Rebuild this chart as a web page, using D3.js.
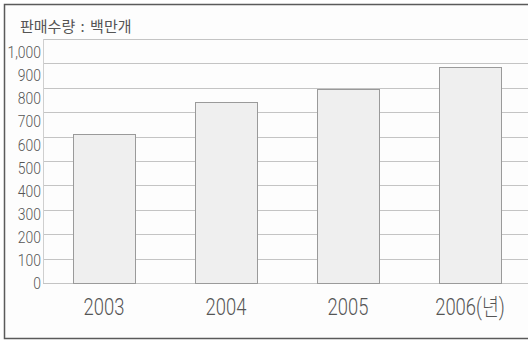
<!DOCTYPE html>
<html>
<head>
<meta charset="utf-8">
<script src="https://cdn.jsdelivr.net/npm/d3@7"></script>
<style>
  body { margin: 0; background: #fff; }
  svg { display: block; }
</style>
</head>
<body>
<script>
// chart data
var years = ["2003", "2004", "2005", "2006"];
var yearLabels = ["2003", "2004", "2005", "2006(년)"];
var sales = [612, 740, 795, 885];
var yTicks = [0, 100, 200, 300, 400, 500, 600, 700, 800, 900, 1000];
var unitTitle = "판매수량 : 백만개";

var width = 528, height = 341;
var numFont = "Roboto, 'Noto Sans CJK KR', sans-serif";

var svg = d3.select("body").append("svg")
  .attr("width", width).attr("height", height);

// frame
svg.append("rect")
  .attr("x", 4.5).attr("y", 4.5)
  .attr("width", 530).attr("height", 334)
  .style("fill", "#fdfdfd")
  .style("stroke", "#5a5a5a")
  .style("stroke-width", 1.5);

var y = d3.scaleLinear().domain([0, 1000]).range([283, 39]);
// the printed labels drift a little from the grid lines
var yLabel = d3.scaleLinear().domain([0, 1000]).range([283, 52]);
var x = d3.scaleBand().domain(years).range([43, 531])
  .paddingInner(0.49).paddingOuter(0.245);

// gridlines
svg.append("g").selectAll("line").data(yTicks).enter()
  .append("line")
  .attr("x1", 43).attr("x2", width)
  .attr("y1", function(d){return Math.round(y(d)) + 0.5;})
  .attr("y2", function(d){return Math.round(y(d)) + 0.5;})
  .style("stroke", "#c4c4c4").style("stroke-width", 1);

// y axis line
svg.append("line")
  .attr("x1", 43.5).attr("x2", 43.5)
  .attr("y1", y(1000)).attr("y2", y(0))
  .style("stroke", "#cfcfcf");

// y tick labels (narrow print face -> squeeze Roboto)
svg.append("g").selectAll("text").data(yTicks).enter()
  .append("text")
  .attr("transform", function(d){return "translate(41," + yLabel(d) + ") scale(0.82,1)";})
  .attr("dy", "0.36em")
  .attr("text-anchor", "end")
  .style("font-family", numFont)
  .style("font-weight", 300)
  .style("font-size", "17px")
  .style("fill", "#555")
  .text(function(d){return d3.format(",")(d);});

// bars
svg.append("g").selectAll("rect").data(sales).enter()
  .append("rect")
  .attr("x", function(d,i){return Math.round(x(years[i])) + 0.5;})
  .attr("y", function(d){return Math.round(y(d)) + 0.5;})
  .attr("width", Math.round(x.bandwidth()))
  .attr("height", function(d){return Math.round(y(0)) - Math.round(y(d));})
  .style("fill", "#efefef")
  .style("stroke", "#9a9a9a")
  .style("stroke-width", 1);

// x labels
svg.append("g").selectAll("text").data(yearLabels).enter()
  .append("text")
  .attr("transform", function(d,i){return "translate(" + (x(years[i]) + x.bandwidth()/2) + ",307) scale(0.8,1)";})
  .attr("dy", "0.36em")
  .attr("text-anchor", "middle")
  .style("font-family", numFont)
  .style("font-weight", 300)
  .style("font-size", "23px")
  .style("fill", "#555")
  .text(function(d){return d;});

// unit title
svg.append("text")
  .attr("x", 20).attr("y", 27)
  .attr("dy", "0.36em")
  .style("font-family", "'Noto Sans CJK KR', sans-serif")
  .style("font-size", "15px")
  .style("word-spacing", "2px")
  .style("fill", "#555")
  .text(unitTitle);
</script>
</body>
</html>
